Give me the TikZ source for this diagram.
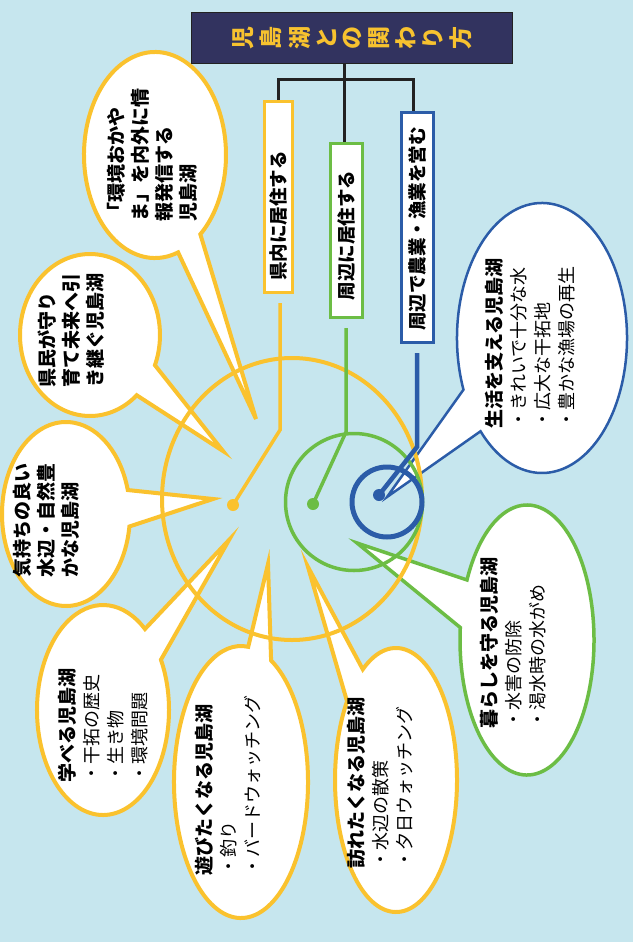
\documentclass[tikz,border=0pt]{standalone}
\usepackage{fontspec}
\usepackage{graphicx}
\newfontfamily\jp{Noto Sans CJK JP}
\definecolor{cBg}{HTML}{C6E6EE}
\definecolor{cY}{HTML}{FAC22E}
\definecolor{cG}{HTML}{6CBD45}
\definecolor{cB}{HTML}{2B5CA8}
\definecolor{cNavy}{HTML}{32335F}
\definecolor{cTitle}{HTML}{F7C22F}
\definecolor{cLine}{HTML}{222222}
\newcommand\tg[1]{\rotatebox[origin=c]{90}{#1}}
\begin{document}
\begin{tikzpicture}[x=1pt,y=-1pt,
  bubY/.style={fill=white, draw=cY, line width=4pt},
  bubG/.style={fill=white, draw=cG, line width=3.5pt},
  bubB/.style={fill=white, draw=cB, line width=2.5pt},
  btxt/.style={rotate=90, anchor=north west, inner sep=0pt, align=left, font=\jp\fontsize{18}{24}\selectfont},
  boxtxt/.style={rotate=90, inner sep=0pt, font=\jp\bfseries\fontsize{18.5}{20}\selectfont},
  vbox/.style={fill=white, line width=3pt, inner sep=0pt},
  tree/.style={draw=cLine, line width=3pt},
  titlebox/.style={fill=cNavy, draw=cLine, line width=1pt, minimum width=321, minimum height=51, inner sep=0pt, text=cTitle, font=\jp\bfseries\fontsize{23}{23}\selectfont}
]
\useasboundingbox (0,0) rectangle (633,942);
\fill[cBg] (0,0) rectangle (633,942);

% speech bubbles
\draw[bubY] ([shift={(71.0:71 and 103)}]155,155) arc[start angle=71.0, end angle=410.3, x radius=71, y radius=103] -- (256,419) -- cycle;
\draw[bubY] ([shift={(48.1:70 and 81)}]90,335) arc[start angle=48.1, end angle=381.9, x radius=70, y radius=81] -- (223,451) -- cycle;
\draw[bubY] ([shift={(7.8:64 and 92)}]66,514) arc[start angle=7.8, end angle=344.9, x radius=64, y radius=92] -- (213,499) -- cycle;
\draw[bubY] ([shift={(-28.6:66 and 105)}]103,710) arc[start angle=-28.6, end angle=309.5, x radius=66, y radius=105] -- (229,540) -- cycle;
\draw[bubY] ([shift={(-63.3:67 and 136)}]241,782) arc[start angle=-63.3, end angle=276.2, x radius=67, y radius=136] -- (268,564) -- cycle;
\draw[bubY] ([shift={(237:61 and 132)}]396,780) arc[start angle=237, end angle=576.6, x radius=61, y radius=132] -- (308,567) -- cycle;
\draw[bubG] ([shift={(206.4:67 and 135)}]527,640) arc[start angle=206.4, end angle=545.3, x radius=67, y radius=135] -- (357,543) -- cycle;
\draw[bubB] ([shift={(157.5:85 and 135)}]542,338) arc[start angle=157.5, end angle=496.3, x radius=85, y radius=135] -- (387,497) -- cycle;

% bubble texts
\node[btxt] (t1) at (107,222) {{\bfseries\fontsize{19}{24}\selectfont 「環境おかや}\\{\bfseries\fontsize{19}{24}\selectfont ま」を内外に情}\\{\bfseries\fontsize{19}{24}\selectfont 報発信する}\\{\bfseries\fontsize{19}{24}\selectfont 児島湖}};
\node[btxt] (t2) at (38,388) {{\bfseries\fontsize{19}{24}\selectfont 県民が守り}\\{\bfseries\fontsize{19}{24}\selectfont 育て未来へ引}\\{\bfseries\fontsize{19}{24}\selectfont き継ぐ児島湖}};
\node[btxt] (t3) at (13,578) {{\bfseries\fontsize{19}{24}\selectfont 気持ちの良い}\\{\bfseries\fontsize{19}{24}\selectfont 水辺・自然豊}\\{\bfseries\fontsize{19}{24}\selectfont かな児島湖}};
\node[btxt] (t4) at (58,783) {{\bfseries\fontsize{19}{24}\selectfont 学べる児島湖}\\・干拓の歴史\\・生き物\\・環境問題};
\node[btxt] (t5) at (195,876) {{\bfseries\fontsize{19}{24}\selectfont 遊びたくなる児島湖}\\・釣り\\・バードウォッチング};
\node[btxt] (t6) at (347,869) {{\bfseries\fontsize{19}{24}\selectfont 訪れたくなる児島湖}\\・水辺の散策\\・夕日ウォッチング};
\node[btxt] (t7) at (480,729) {{\bfseries\fontsize{19}{24}\selectfont 暮らしを守る児島湖}\\・水害の防除\\・渇水時の水がめ};
\node[btxt] (t8) at (485,429) {{\bfseries\fontsize{19}{24}\selectfont 生活を支える児島湖}\\・きれいで十分な水\\・広大な干拓地\\・豊かな漁場の再生};

% circles
\draw[cY, line width=4pt] (292,499) ellipse [x radius=130, y radius=141];
\draw[cG, line width=3.5pt] (354,502) circle [radius=68.5];
\draw[cB, line width=5pt] (387,502) circle [radius=35];

% title and boxes
\node[titlebox] (T) at (352,38) {\tg{児}\hspace{6.5pt}\tg{島}\hspace{6.5pt}\tg{湖}\hspace{6.5pt}\tg{と}\hspace{6.5pt}\tg{の}\hspace{6.5pt}\tg{関}\hspace{6.5pt}\tg{わ}\hspace{6.5pt}\tg{り}\hspace{6.5pt}\tg{方}};
\node[vbox, draw=cY, minimum width=28, minimum height=191] (Y) at (278.5,197) {};
\node[vbox, draw=cG, minimum width=32, minimum height=174] (G) at (346.5,230.5) {};
\node[vbox, draw=cB, minimum width=32, minimum height=230] (B) at (417.5,227.5) {};
\node[boxtxt] (Yt) at (278.5,216) {県内に居住する};
\node[boxtxt] (Gt) at (346.5,235.5) {周辺に居住する};
\node[boxtxt] (Bt) at (417.5,229) {周辺で農業・漁業を営む};

% tree connectors
\coordinate (jl) at (278,79);
\coordinate (jc) at (344,79);
\coordinate (jr) at (413,79);
\draw[tree] (T.south -| jc) -- (G.north -| jc);
\draw[tree] (Y.north -| jl) -- (jl) -- (jr) -- (B.north -| jr);

% coloured connectors to dots
\coordinate (ys) at (280,303); \coordinate (yb) at (280,430); \coordinate (yd) at (233,505);
\coordinate (gs) at (346,328); \coordinate (gb) at (346,432); \coordinate (gd) at (313,504);
\coordinate (bs) at (417,353); \coordinate (bb) at (417,447); \coordinate (bd) at (379,495);
\draw[cY, line width=3.5pt] (ys) -- (yb) -- (yd);
\draw[cG, line width=3.5pt] (gs) -- (gb) -- (gd);
\draw[cB, line width=4.5pt] (bs) -- (bb) -- (bd);
\fill[cY] (yd) circle [radius=6];
\fill[cG] (gd) circle [radius=6];
\fill[cB] (bd) circle [radius=6];
\end{tikzpicture}
\end{document}
